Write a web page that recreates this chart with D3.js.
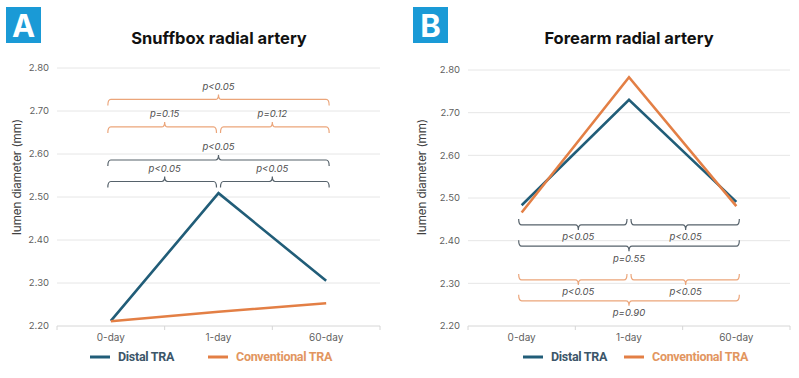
<!DOCTYPE html>
<html>
<head>
<meta charset="utf-8">
<script src="https://cdn.jsdelivr.net/npm/d3@7"></script>
<style>
	body { margin: 0; background: #fff; }
	svg { display: block; font-family: Inter, 'Open Sans', sans-serif; }
</style>
</head>
<body>
<svg id="chart" width="799" height="378"></svg>
<script>
const days = ['0-day', '1-day', '60-day']
const yTicks = [2.2, 2.3, 2.4, 2.5, 2.6, 2.7, 2.8]
const seriesNames = ['Distal TRA', 'Conventional TRA']

const snuffboxDistal = [2.212, 2.509, 2.305]
const snuffboxConventional = [2.211, 2.233, 2.253]
const forearmDistal = [2.483, 2.730, 2.491]
const forearmConventional = [2.466, 2.783, 2.481]

// p-value brackets: from / to category index, level in mm, label
const snuffboxBrackets = [
	{ from: 0, to: 2, level: 2.727, label: 'p<0.05', series: 1 },
	{ from: 0, to: 1, level: 2.663, label: 'p=0.15', series: 1 },
	{ from: 1, to: 2, level: 2.663, label: 'p=0.12', series: 1 },
	{ from: 0, to: 2, level: 2.586, label: 'p<0.05', series: 0 },
	{ from: 0, to: 1, level: 2.536, label: 'p<0.05', series: 0 },
	{ from: 1, to: 2, level: 2.536, label: 'p<0.05', series: 0 }
]
const forearmBrackets = [
	{ from: 0, to: 1, level: 2.437, label: 'p<0.05', series: 0 },
	{ from: 1, to: 2, level: 2.437, label: 'p<0.05', series: 0 },
	{ from: 0, to: 2, level: 2.387, label: 'p=0.55', series: 0 },
	{ from: 0, to: 1, level: 2.308, label: 'p<0.05', series: 1 },
	{ from: 1, to: 2, level: 2.308, label: 'p<0.05', series: 1 },
	{ from: 0, to: 2, level: 2.259, label: 'p=0.90', series: 1 }
]

const lineColors = ['#215d78', '#e37f45']
const bracketColors = ['#56626b', '#eba57a']
const legendTextColors = ['#3c5669', '#e2965f']

const svg = d3.select('#chart')

const panels = [
	{ letter: 'A', title: 'Snuffbox radial artery', badgeX: 6, titleX: 219,
		x0: 57, x1: 380, yTop: 68, series: [snuffboxDistal, snuffboxConventional],
		brackets: snuffboxBrackets, down: true, labelX: 17, legendX: 90, legendGap: 118 },
	{ letter: 'B', title: 'Forearm radial artery', badgeX: 413, titleX: 629,
		x0: 468, x1: 790, yTop: 70, series: [forearmDistal, forearmConventional],
		brackets: forearmBrackets, down: false, labelX: 422, legendX: 523, legendGap: 101 }
]

panels.forEach(p => {
	const g = svg.append('g')

	g.append('rect')
		.attr('x', p.badgeX).attr('y', 7)
		.attr('width', 35).attr('height', 36)
		.attr('fill', '#1a9ad6')
	g.append('text')
		.attr('x', p.badgeX + 17.5).attr('y', 37)
		.attr('text-anchor', 'middle')
		.attr('fill', '#fff')
		.style('font-size', '31px').style('font-weight', 700)
		.text(p.letter)

	g.append('text')
		.attr('x', p.titleX).attr('y', 44)
		.attr('text-anchor', 'middle')
		.attr('fill', '#111')
		.style('font-size', '16.5px').style('font-weight', 700)
		.text(p.title)

	const x = d3.scaleBand().domain(days).range([p.x0, p.x1])
	const y = d3.scaleLinear().domain([2.2, 2.8]).range([326, p.yTop])

	// gridlines
	g.selectAll('line.grid')
		.data(yTicks)
		.enter()
		.append('line')
		.attr('x1', p.x0).attr('x2', p.x1)
		.attr('y1', d => y(d)).attr('y2', d => y(d))
		.attr('stroke', d => d === 2.2 ? '#d6d6d6' : '#e6e6e6')
		.attr('stroke-width', 1)

	g.selectAll('text.ytick')
		.data(yTicks)
		.enter()
		.append('text')
		.attr('x', p.x0 - 8).attr('y', d => y(d))
		.attr('dy', '0.35em')
		.attr('text-anchor', 'end')
		.attr('fill', '#5f5f5f')
		.style('font-size', '9.5px')
		.text(d => d3.format('.2f')(d))

	// x axis ticks at band edges
	g.selectAll('line.xtick')
		.data(days.map(d => x(d) + x.bandwidth()).concat([p.x0]))
		.enter()
		.append('line')
		.attr('x1', d => d).attr('x2', d => d)
		.attr('y1', y(2.2)).attr('y2', y(2.2) + 4)
		.attr('stroke', '#d6d6d6')

	g.selectAll('text.xlab')
		.data(days)
		.enter()
		.append('text')
		.attr('x', d => x(d) + x.bandwidth() / 2)
		.attr('y', 341)
		.attr('text-anchor', 'middle')
		.attr('fill', '#5f5f5f')
		.style('font-size', '10px')
		.text(d => d)

	g.append('text')
		.attr('transform', `translate(${p.labelX},177) rotate(-90)`)
		.attr('dy', '0.35em')
		.attr('text-anchor', 'middle')
		.attr('fill', '#404040')
		.style('font-size', '11.5px')
		.text('lumen diameter (mm)')

	// brackets
	const cx = i => x(days[i]) + x.bandwidth() / 2
	const dir = p.down ? 1 : -1
	p.brackets.forEach(b => {
		const full = b.to - b.from === 2
		const xa = cx(b.from) - 3 + (b.from === 1 ? 5 : 0)
		const xb = cx(b.to) + 3 - (b.to === 1 ? 5 : 0)
		const xm = (cx(b.from) + cx(b.to)) / 2 + (full ? 0 : (p.down ? 0 : 3))
		const yl = y(b.level)
		const h = 6 * dir
		const t = 5 * dir
		const r = 3
		const path = d3.path()
		path.moveTo(xa, yl + h)
		path.quadraticCurveTo(xa, yl, xa + r, yl)
		path.lineTo(xm - r, yl)
		path.quadraticCurveTo(xm, yl, xm, yl - t)
		path.quadraticCurveTo(xm, yl, xm + r, yl)
		path.lineTo(xb - r, yl)
		path.quadraticCurveTo(xb, yl, xb, yl + h)
		g.append('path')
			.attr('d', path.toString())
			.attr('fill', 'none')
			.attr('stroke', bracketColors[b.series])
			.attr('stroke-width', 1.2)
		g.append('text')
			.attr('x', xm)
			.attr('y', p.down ? yl - 13 : yl + 12)
			.attr('dy', '0.35em')
			.attr('text-anchor', 'middle')
			.attr('fill', '#505050')
			.style('font-size', '9.5px')
			.style('font-style', 'italic')
			.text(b.label)
	})

	const line = d3.line()
		.x((d, i) => cx(i))
		.y(d => y(d))
		.curve(d3.curveLinear)

	g.selectAll('path.series')
		.data(p.series)
		.enter()
		.append('path')
		.attr('d', d => line(d))
		.attr('fill', 'none')
		.attr('stroke', (d, i) => lineColors[i])
		.attr('stroke-width', 2.6)

	// legend
	const lg = g.selectAll('g.legend')
		.data(seriesNames)
		.enter()
		.append('g')
		.attr('transform', (d, i) => `translate(${p.legendX + i * p.legendGap},357)`)
	lg.append('line')
		.attr('x1', 0).attr('x2', 20)
		.attr('stroke', (d, i) => lineColors[i])
		.attr('stroke-width', 3)
	lg.append('text')
		.attr('x', 28)
		.attr('dy', '0.35em')
		.attr('fill', (d, i) => legendTextColors[i])
		.style('font-family', 'Roboto, sans-serif')
		.style('font-size', '12.5px')
		.style('letter-spacing', '-0.3px')
		.style('font-weight', 700)
		.text(d => d)
})
</script>
</body>
</html>
